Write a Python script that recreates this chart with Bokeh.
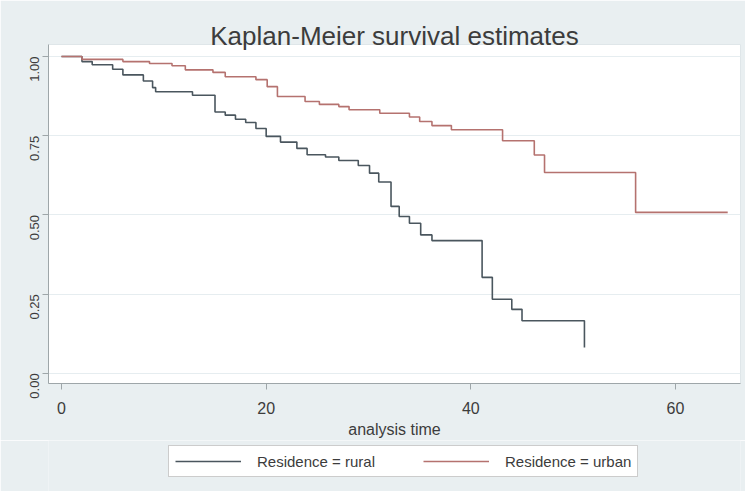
import math
from bokeh.plotting import figure
from bokeh.layouts import column
from bokeh.models import Range1d, FixedTicker, Legend, LegendItem
from bokeh.embed import file_html
from bokeh.resources import INLINE

# ---- data ----
rural_time = [0, 2, 3, 5, 6, 8, 8.9, 9.2, 12.8, 15, 16, 17, 18, 19, 20, 21.4, 23, 24,
              25.8, 27.1, 29, 30.1, 31, 32.2, 33, 34, 35.1, 36.2, 41.1, 42.1, 44, 45, 51.1]
rural_surv = [1.0, 0.984, 0.974, 0.96, 0.942, 0.923, 0.902, 0.889, 0.878, 0.825, 0.815,
              0.802, 0.792, 0.773, 0.748, 0.73, 0.71, 0.69, 0.683, 0.672, 0.656, 0.632,
              0.604, 0.527, 0.495, 0.474, 0.437, 0.419, 0.303, 0.234, 0.202, 0.166, 0.082]

urban_time = [0, 2, 6, 8.6, 10.8, 12.1, 14.8, 16, 19, 20.1, 21.1, 23.8, 25.2, 27.1, 28.1,
              31.1, 34, 35, 36.2, 38.1, 43.1, 46.2, 47.2, 56.1, 65.1]
urban_surv = [1.0, 0.991, 0.984, 0.978, 0.971, 0.958, 0.95, 0.936, 0.927, 0.905, 0.874,
              0.858, 0.849, 0.842, 0.832, 0.821, 0.809, 0.795, 0.782, 0.769, 0.734, 0.689,
              0.634, 0.508, 0.508]

x_ticks = [0, 20, 40, 60]
y_ticks = [0.0, 0.25, 0.5, 0.75, 1.0]
y_tick_labels = ["0.00", "0.25", "0.50", "0.75", "1.00"]
title_text = "Kaplan-Meier survival estimates"
x_label = "analysis time"
legend_labels = ["Residence = rural", "Residence = urban"]

# ---- styling ----
BG = "#e9eff1"
TEXT = "#3c3c3c"
AXIS = "#9ea6a9"
RURAL_C = "#4a565e"
URBAN_C = "#b5726f"
FONT = "Liberation Sans"

p = figure(frame_width=692, frame_height=339, output_backend="svg", toolbar_location=None,
           x_range=Range1d(-1.27, 66.35), y_range=Range1d(-0.032, 1.038),
           min_border_left=48, min_border_right=5, min_border_top=44,
           min_border_bottom=57)

p.background_fill_color = "white"
p.border_fill_color = BG
p.outline_line_color = "#dfe6e9"

p.title.text = title_text
p.title.align = "center"
p.title.text_font = FONT
p.title.text_font_size = "26px"
p.title.text_font_style = "normal"
p.title.text_color = TEXT
p.title.standoff = -12

r1 = p.step(rural_time, rural_surv, mode="after", line_color=RURAL_C, line_width=1.6)
r2 = p.step(urban_time, urban_surv, mode="after", line_color=URBAN_C, line_width=1.6)

# axes
p.xaxis.ticker = FixedTicker(ticks=x_ticks)
p.yaxis.ticker = FixedTicker(ticks=y_ticks)
p.yaxis.major_label_overrides = {t: l for t, l in zip(y_ticks, y_tick_labels)}
p.yaxis.major_label_orientation = math.pi / 2
p.xaxis.axis_label = x_label
for ax in (p.xaxis, p.yaxis):
    ax.axis_line_color = AXIS
    ax.major_tick_line_color = AXIS
    ax.minor_tick_line_color = None
    ax.major_tick_out = 6
    ax.major_tick_in = 0
    ax.major_label_text_font = FONT
    ax.major_label_text_color = TEXT
    ax.axis_label_text_font = FONT
    ax.axis_label_text_color = TEXT
    ax.axis_label_text_font_style = "normal"
p.xaxis.major_label_text_font_size = "16px"
p.yaxis.major_label_text_font_size = "13px"
p.xaxis.axis_label_text_font_size = "16px"
p.xaxis.axis_label_standoff = 4
p.xaxis.major_label_standoff = 12
p.yaxis.major_label_standoff = 8

p.xgrid.visible = False
p.ygrid.ticker = FixedTicker(ticks=y_ticks)
p.ygrid.grid_line_color = "#e6edf0"
p.ygrid.grid_line_width = 1

# ---- legend strip (separate figure below the chart, frame aligned with the chart) ----
leg = figure(frame_width=692, frame_height=51, output_backend="svg", toolbar_location=None,
             x_axis_type=None, y_axis_type=None,
             min_border_left=48, min_border_right=5, min_border_top=0, min_border_bottom=0,
             x_range=Range1d(100, 101), y_range=Range1d(0, 1))
leg.background_fill_color = BG
leg.border_fill_color = BG
leg.outline_line_color = None
leg.xgrid.visible = False
leg.ygrid.visible = False
# same series; the strip's range lies beyond the data, so only the legend samples show
s1 = leg.step(rural_time, rural_surv, mode="after", line_color=RURAL_C, line_width=1.6)
s2 = leg.step(urban_time, urban_surv, mode="after", line_color=URBAN_C, line_width=1.6)

legend = Legend(items=[LegendItem(label=legend_labels[0], renderers=[s1]),
                       LegendItem(label=legend_labels[1], renderers=[s2])],
                orientation="horizontal", location=(120, 14))
legend.label_text_font = FONT
legend.label_text_font_size = "15px"
legend.label_text_color = TEXT
legend.glyph_width = 66
legend.glyph_height = 18
legend.label_standoff = 16
legend.spacing = 48
legend.padding = 6
legend.margin = 0
legend.border_line_color = "#9a9a9a"
legend.border_line_width = 1
legend.background_fill_color = "white"
legend.background_fill_alpha = 1.0
leg.add_layout(legend, "center")

layout = column(p, leg, spacing=0)
open("out.html", "w").write(file_html(layout, INLINE))
